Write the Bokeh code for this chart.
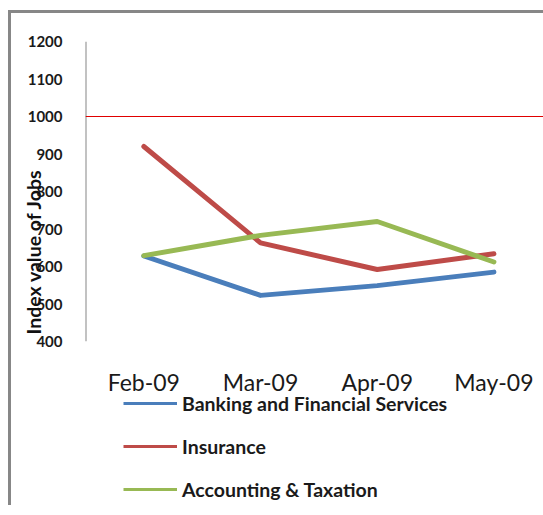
from bokeh.plotting import figure
from bokeh.layouts import column
from bokeh.models import Range1d, Legend, LegendItem, FixedTicker, ColumnDataSource, Title
from bokeh.embed import file_html
from bokeh.resources import INLINE

months = ["Feb-09", "Mar-09", "Apr-09", "May-09"]
banking = [628, 523, 549, 585]
insurance = [920, 663, 592, 634]
accounting = [629, 683, 720, 612]
series_names = ["Banking and Financial Services", "Insurance", "Accounting & Taxation"]
colors = ["#4A7EBB", "#BE4B48", "#98B954"]
y_ticks = [400, 500, 600, 700, 800, 900, 1000, 1100, 1200]
ref_value = 1000

xs = list(range(len(months)))
series = [banking, insurance, accounting]
x_start = -0.5

p = figure(width=532, height=388, output_backend="svg", toolbar_location=None,
           x_range=Range1d(x_start, 3.425), y_range=Range1d(400, 1200),
           min_border_left=74, min_border_right=0, min_border_top=28, min_border_bottom=60)
p.outline_line_color = None
p.xgrid.visible = False
p.ygrid.visible = False
p.background_fill_color = "white"
p.border_fill_color = "white"

# y axis (its rule is drawn as a grey span on the frame edge)
p.yaxis.ticker = FixedTicker(ticks=y_ticks)
p.yaxis.axis_line_color = None
p.yaxis.major_tick_line_color = None
p.yaxis.minor_tick_line_color = None
p.yaxis.major_label_standoff = 17
p.yaxis.major_label_text_font = "Lato"
p.yaxis.major_label_text_font_style = "bold"
p.yaxis.major_label_text_font_size = "15px"
p.yaxis.major_label_text_color = "#1a1a1a"
p.vspan(x=[x_start], line_color="#868686", line_width=2)

# x axis
p.xaxis.ticker = FixedTicker(ticks=xs)
p.xaxis.major_label_overrides = {i: m for i, m in enumerate(months)}
p.xaxis.axis_line_color = None
p.xaxis.major_tick_line_color = None
p.xaxis.minor_tick_line_color = None
p.xaxis.major_label_standoff = 20
p.xaxis.major_label_text_font = "Lato"
p.xaxis.major_label_text_font_size = "23px"
p.xaxis.major_label_text_color = "#1a1a1a"

# reference line at 1000
p.hspan(y=[ref_value], line_color="#E00000", line_width=1)

for vals, c in zip(series, colors):
    src = ColumnDataSource(dict(x=xs, y=vals))
    p.line("x", "y", source=src, line_color=c, line_width=5, line_cap="round", line_join="round")

p.add_layout(Title(text="Index value of Jobs", align="left", vertical_align="bottom",
                   offset=7, standoff=-41, text_font="Lato", text_font_style="bold",
                   text_font_size="19.5px", text_color="#111111"), "left")

# legend figure (frame aligned with the chart frame by the column layout)
p2 = figure(width=532, height=129, output_backend="svg", toolbar_location=None,
            x_range=Range1d(0, 1), y_range=Range1d(0, 1),
            min_border_left=0, min_border_right=0, min_border_top=0, min_border_bottom=0)
p2.axis.visible = False
p2.grid.visible = False
p2.outline_line_color = None
p2.background_fill_color = None
p2.border_fill_color = None
p2.styles = {"margin-top": "-25px"}

renderers = []
for vals, c in zip(series, colors):
    renderers.append(p2.line(x=xs, y=vals, line_color=c, line_width=3))

legend = Legend(items=[LegendItem(label=n, renderers=[r]) for n, r in zip(series_names, renderers)],
                location=(38, 4), orientation="vertical")
legend.border_line_color = None
legend.background_fill_alpha = 0
legend.padding = 0
legend.margin = 0
legend.glyph_width = 54
legend.glyph_height = 24
legend.label_height = 24
legend.spacing = 19
legend.label_standoff = 5
legend.label_text_font = "Lato"
legend.label_text_font_style = "bold"
legend.label_text_font_size = "19.5px"
legend.label_text_color = "#1a1a1a"
p2.add_layout(legend, "center")

layout = column(p, p2, spacing=0)
layout.styles = {"border-left": "3px solid #878787", "border-top": "3px solid #878787",
                 "margin-top": "10px", "margin-left": "8px"}

open("out.html", "w").write(file_html(layout, INLINE))
